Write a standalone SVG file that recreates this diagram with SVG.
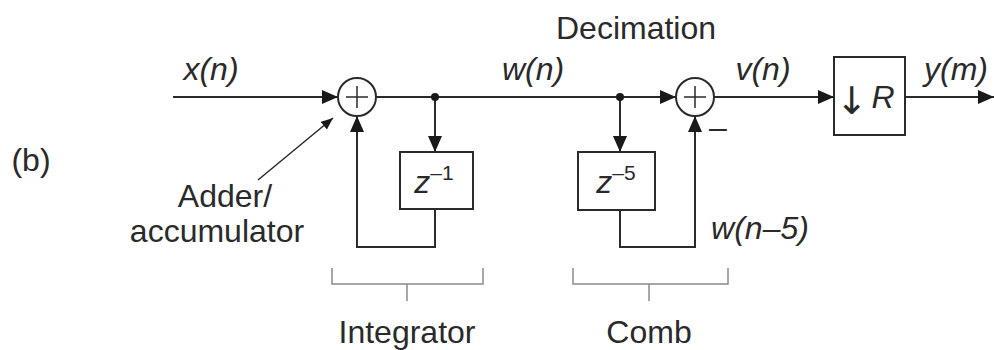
<svg xmlns="http://www.w3.org/2000/svg" width="994" height="350" viewBox="0 0 994 350">
<defs>
<style>
.ln{fill:none;stroke:#2a2a2a;stroke-width:2}
.br{fill:none;stroke:#8a8a8a;stroke-width:1.5}
.t{font-family:"Liberation Sans",Arial,sans-serif;fill:#2a2a2a;font-size:32px}
.i{font-style:italic}
.box{fill:#fff;stroke:#2a2a2a;stroke-width:2}
</style>
<marker id="ah" markerUnits="userSpaceOnUse" markerWidth="16" markerHeight="14" refX="16" refY="7" orient="auto">
<path d="M0,0 L16,7 L0,14 z" fill="#1a1a1a"/>
</marker>
<marker id="ahs" markerUnits="userSpaceOnUse" markerWidth="12" markerHeight="10" refX="12" refY="5" orient="auto">
<path d="M0,0 L12,5 L0,10 z" fill="#1a1a1a"/>
</marker>
</defs>
<rect width="994" height="350" fill="#fff"/>

<g id="connectors">
<line class="ln" x1="173" y1="97" x2="338" y2="97" marker-end="url(#ah)"/>
<line class="ln" x1="376" y1="97" x2="676" y2="97" marker-end="url(#ah)"/>
<line class="ln" x1="435" y1="97" x2="435" y2="152" marker-end="url(#ah)"/>
<polyline class="ln" points="435,209 435,247 357,247 357,116" marker-end="url(#ah)"/>
<line class="ln" x1="620" y1="97" x2="620" y2="152" marker-end="url(#ah)"/>
<polyline class="ln" points="620,210 620,247 695,247 695,116" marker-end="url(#ah)"/>
<line class="ln" x1="714" y1="97" x2="834" y2="97" marker-end="url(#ah)"/>
<line class="ln" x1="905" y1="97" x2="994" y2="97" marker-end="url(#ah)"/>
<line x1="258" y1="180" x2="333" y2="118" stroke="#2a2a2a" stroke-width="1.5" marker-end="url(#ahs)"/>
<circle cx="435" cy="97" r="4" fill="#1a1a1a"/>
<circle cx="620" cy="97" r="4" fill="#1a1a1a"/>
</g>

<g id="adder1">
<circle cx="357" cy="97" r="19" fill="#fff" stroke="#2a2a2a" stroke-width="2"/>
<path d="M346,97 H368 M357,86 V108" stroke="#2a2a2a" stroke-width="1.5"/>
</g>
<g id="adder2">
<circle cx="695" cy="97" r="19" fill="#fff" stroke="#2a2a2a" stroke-width="2"/>
<path d="M684,97 H706 M695,86 V108" stroke="#2a2a2a" stroke-width="1.5"/>
<text class="t" x="718" y="138" text-anchor="middle">–</text>
</g>
<g id="delay1">
<rect class="box" x="400" y="152" width="73" height="57"/>
<text class="t" x="434" y="193" text-anchor="middle"><tspan class="i">z</tspan><tspan font-size="21" dy="-13">–1</tspan></text>
</g>
<g id="delay5">
<rect class="box" x="578" y="152" width="77" height="58"/>
<text class="t" x="616" y="193" text-anchor="middle"><tspan class="i">z</tspan><tspan font-size="21" dy="-13">–5</tspan></text>
</g>
<g id="downsample">
<rect class="box" x="834" y="57" width="71" height="78"/>
<text x="852" y="114" text-anchor="middle" font-family="DejaVu Sans, sans-serif" font-size="38" fill="#2a2a2a">↓</text>
<text class="t i" x="883" y="108" text-anchor="middle">R</text>
</g>

<g id="labels">
<text class="t i" x="211" y="80" text-anchor="middle">x(n)</text>
<text class="t i" x="533" y="80" text-anchor="middle">w(n)</text>
<text class="t i" x="763" y="80" text-anchor="middle">v(n)</text>
<text class="t i" x="956" y="80" text-anchor="middle">y(m)</text>
<text class="t i" x="760" y="239" text-anchor="middle">w(n–5)</text>
<text class="t" x="636" y="39" text-anchor="middle">Decimation</text>
<text class="t" x="31" y="171" text-anchor="middle">(b)</text>
<text class="t" x="225" y="207" text-anchor="middle">Adder/</text>
<text class="t" x="217" y="242" text-anchor="middle">accumulator</text>
</g>

<g id="integrator">
<path class="br" d="M332,268 V284 H483 V268 M407,284 V301"/>
<text class="t" x="407" y="343" text-anchor="middle">Integrator</text>
</g>
<g id="comb">
<path class="br" d="M573,268 V284 H728 V268 M649,284 V301"/>
<text class="t" x="649" y="343" text-anchor="middle">Comb</text>
</g>
</svg>
